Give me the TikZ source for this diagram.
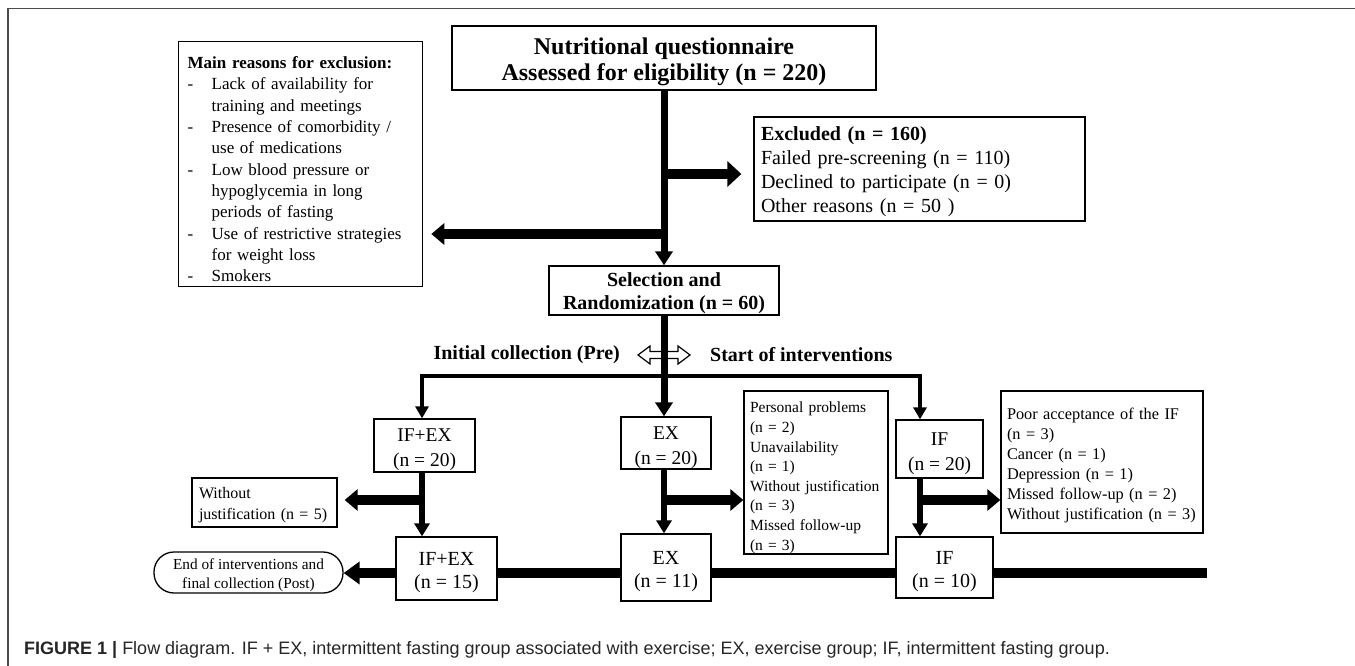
\documentclass[tikz,border=0pt]{standalone}
\usepackage{fontspec}
\setmainfont{Liberation Serif}
\newfontfamily\capfont{Liberation Sans}
\usetikzlibrary{arrows.meta}
\newcommand\dn[1]{\rule{0pt}{\dimexpr\fontcharht\font`\(+#1\relax}}
\begin{document}
\begin{tikzpicture}[x=1pt,y=-1pt,
  box/.style={draw, line width=1.3pt, fill=white, inner sep=0pt, align=center},
  lbox/.style={draw, line width=1.3pt, fill=white, align=left},
  stemA/.style={line width=7pt, -{Triangle[length=14pt,width=17pt]}},
  thinA/.style={line width=3.5pt, -{Triangle[length=12pt,width=13pt]}},
  midA/.style={line width=6pt, -{Triangle[length=13pt,width=15pt]}},
  sideA/.style={line width=10pt, -{Triangle[length=13pt,width=21pt]}},
  bigA/.style={line width=10pt, -{Triangle[length=14pt,width=25pt]}},
  baseL/.style={line width=10pt},
  baseA/.style={line width=10pt, -{Triangle[length=16pt,width=22pt]}},
  frame/.style={black!70, line width=1.5pt},
]
\useasboundingbox (0,0) rectangle (1355,666);
\draw[frame] (8,666) -- (8,8.5) -- (1355,8.5);

% boxes
\node[box, minimum width=424pt, minimum height=64pt, font=\bfseries\fontsize{24}{26}\selectfont] (q) at (664,58) {\dn{8pt}Nutritional questionnaire\\Assessed for eligibility (n = 220)};

\node[lbox, anchor=north west, inner xsep=9pt, inner ysep=5pt, text width=226pt, font=\fontsize{17}{21.3}\selectfont] (rs) at (178,41)
 {\rule{0pt}{22pt}\textbf{Main reasons for exclusion:}\\
  \makebox[24pt][l]{-}Lack of availability for\\
  \hspace*{24pt}training and meetings\\
  \makebox[24pt][l]{-}Presence of comorbidity /\\
  \hspace*{24pt}use of medications\\
  \makebox[24pt][l]{-}Low blood pressure or\\
  \hspace*{24pt}hypoglycemia in long\\
  \hspace*{24pt}periods of fasting\\
  \makebox[24pt][l]{-}Use of restrictive strategies\\
  \hspace*{24pt}for weight loss\\
  \makebox[24pt][l]{-}Smokers};

\node[lbox, inner xsep=7pt, inner ysep=0pt, text width=317pt, minimum height=104pt, font=\fontsize{20}{24}\selectfont] (ex) at (919.5,169)
 {\dn{6pt}\textbf{Excluded (n = 160)}\\Failed pre-screening (n = 110)\\Declined to participate (n = 0)\\Other reasons (n = 50 )};

\node[box, minimum width=230pt, minimum height=49pt, font=\bfseries\fontsize{20}{23}\selectfont] (sel) at (664,290.5) {\dn{6pt}Selection and\\Randomization (n = 60)};

\node[anchor=east, inner sep=0pt, font=\bfseries\fontsize{20}{24}\selectfont] (pre) at (620,355) {Initial collection (Pre)};
\node[anchor=west, inner sep=0pt, font=\bfseries\fontsize{20}{24}\selectfont] (start) at (710,355) {Start of interventions};

\node[box, minimum width=101pt, minimum height=53pt, font=\fontsize{19.5}{25}\selectfont] (g1) at (424.5,445.5) {\dn{9pt}IF+EX\\(n = 20)};
\node[box, minimum width=90pt, minimum height=52pt, font=\fontsize{19.5}{25}\selectfont] (g2) at (666,443) {\dn{10pt}EX\\(n = 20)};
\node[box, minimum width=87pt, minimum height=58pt, font=\fontsize{19.5}{25}\selectfont] (g3) at (939.5,449) {\dn{9pt}IF\\(n = 20)};

\node[lbox, inner xsep=6pt, inner ysep=0pt, text width=132pt, minimum height=163pt, font=\fontsize{15.5}{19.6}\selectfont] (exr) at (816,472.5)
 {\dn{11pt}Personal problems\\(n = 2)\\Unavailability\\(n = 1)\\Without justification\\(n = 3)\\Missed follow-up\\(n = 3)};

\node[lbox, inner xsep=6pt, inner ysep=0pt, text width=190pt, minimum height=142pt, font=\fontsize{16.3}{20}\selectfont] (ifr) at (1102,462)
 {\dn{7pt}Poor acceptance of the IF\\(n = 3)\\Cancer (n = 1)\\Depression (n = 1)\\Missed follow-up (n = 2)\\Without justification (n = 3)};

\node[lbox, inner xsep=7pt, inner ysep=0pt, text width=131pt, minimum height=49pt, font=\fontsize{16}{20.4}\selectfont] (wj) at (264.5,502.5) {\dn{6pt}Without\\justification (n = 5)};

\node[box, minimum width=101pt, minimum height=63pt, font=\fontsize{20}{23.5}\selectfont] (b1) at (446.5,568.5) {\dn{8pt}IF+EX\\(n = 15)};
\node[box, minimum width=90pt, minimum height=67pt, font=\fontsize{20}{23.5}\selectfont] (b2) at (666,567.5) {\dn{8pt}EX\\(n = 11)};
\node[box, minimum width=97pt, minimum height=61pt, font=\fontsize{20}{23.5}\selectfont] (b3) at (944.5,567.5) {\dn{8pt}IF\\(n = 10)};

\node[box, rounded corners=20pt, minimum width=189pt, minimum height=41pt, font=\fontsize{15.3}{19}\selectfont] (post) at (248.5,572.5) {\dn{7pt}End of interventions and\\final collection (Post)};

% caption
\node[anchor=west, inner sep=0pt, text=black!85, font=\capfont\fontsize{18}{22}\selectfont] (cap) at (24,650)
 {\textbf{FIGURE 1} \textbf{|} Flow diagram. IF + EX, intermittent fasting group associated with exercise; EX, exercise group; IF, intermittent fasting group.};

% coordinates
\coordinate (jr) at (664,174);
\coordinate (jl) at (664,234);
\coordinate (da) at (664,355);
\coordinate (br) at (664,376);
\coordinate (bl) at (422,376);
\coordinate (brt) at (920,376);
\coordinate (k1) at (422,500);
\coordinate (k2) at (664,500);
\coordinate (k3) at (920,500);
\coordinate (bend) at (1207,573);

% connectors
\draw[stemA] (q.south) -- (sel.north);
\draw[bigA, shorten >=12pt] (jr) -- (jr -| ex.west);
\draw[sideA, shorten >=8pt] (jl) -- (jl -| rs.east);

\draw[fill=white, line width=1.2pt, shift={(da)}] (-26,0) -- (-14,-9) -- (-14,-3.5) -- (14,-3.5) -- (14,-9) -- (26,0) -- (14,9) -- (14,3.5) -- (-14,3.5) -- (-14,9) -- cycle;

\draw[stemA] (sel.south) -- (sel.south |- g2.north);
\draw[thinA] (br) -- (bl) -- (bl |- g1.north);
\draw[thinA] (br) -- (brt) -- (brt |- g3.north);

\draw[midA] (bl |- g1.south) -- (bl |- b1.north);
\draw[midA] (br |- g2.south) -- (br |- b2.north);
\draw[midA] (brt |- g3.south) -- (brt |- b3.north);

\draw[sideA, shorten >=7pt] (k1) -- (k1 -| wj.east);
\draw[sideA] (k2) -- (k2 -| exr.west);
\draw[sideA] (k3) -- (k3 -| ifr.west);

\draw[baseL] (bend) -- (bend -| b3.east);
\draw[baseL] (bend -| b3.west) -- (bend -| b2.east);
\draw[baseL] (bend -| b2.west) -- (bend -| b1.east);
\draw[baseA] (bend -| b1.west) -- (bend -| post.east);
\end{tikzpicture}
\end{document}
